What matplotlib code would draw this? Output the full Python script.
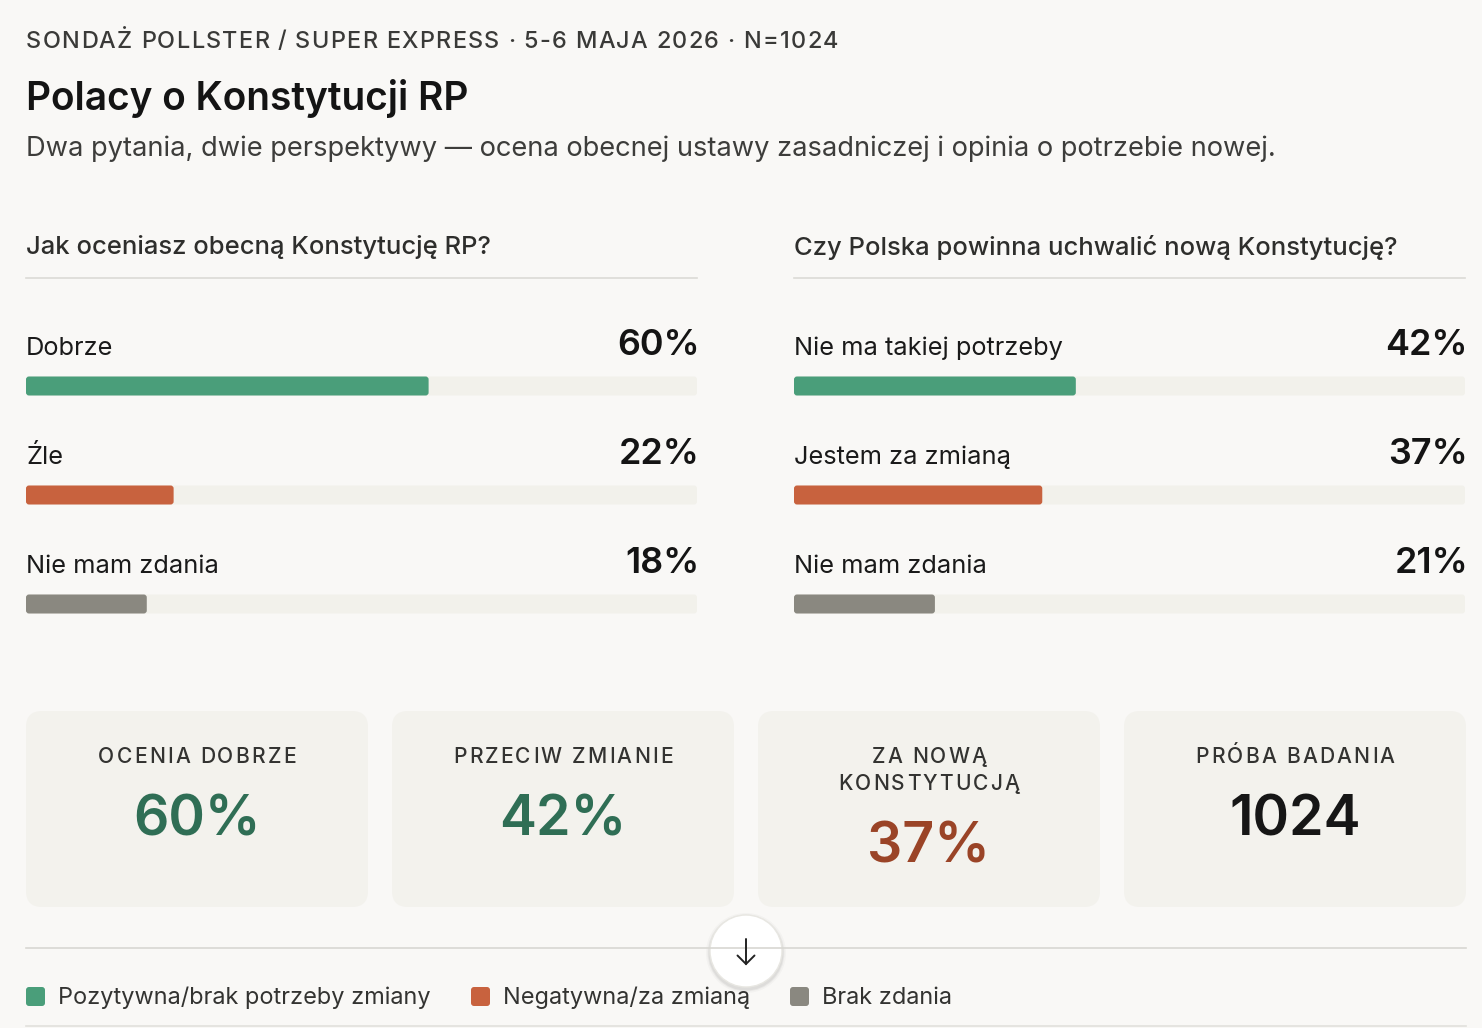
import matplotlib
matplotlib.use("Agg")
import matplotlib.pyplot as plt
from matplotlib.patches import FancyBboxPatch, Circle
from matplotlib.font_manager import FontProperties

plt.rcParams['font.family'] = ['Inter', 'DejaVu Sans']

# ---------------- data ----------------
kicker = "SONDAŻ POLLSTER / SUPER EXPRESS · 5-6 MAJA 2026 · N=1024"
title = "Polacy o Konstytucji RP"
subtitle = "Dwa pytania, dwie perspektywy — ocena obecnej ustawy zasadniczej i opinia o potrzebie nowej."

q1_title = "Jak oceniasz obecną Konstytucję RP?"
q1_labels = ["Dobrze", "Źle", "Nie mam zdania"]
q1_values = [60, 22, 18]

q2_title = "Czy Polska powinna uchwalić nową Konstytucję?"
q2_labels = ["Nie ma takiej potrzeby", "Jestem za zmianą", "Nie mam zdania"]
q2_values = [42, 37, 21]

card_labels = ["OCENIA DOBRZE", "PRZECIW ZMIANIE", "ZA NOWĄ\nKONSTYTUCJĄ", "PRÓBA BADANIA"]
card_values = ["60%", "42%", "37%", "1024"]

legend_labels = ["Pozytywna/brak potrzeby zmiany", "Negatywna/za zmianą", "Brak zdania"]

# ---------------- style ----------------
BG = "#f9f8f6"
TRACK = "#f2f1eb"
CARD = "#f3f2ed"
SERIES = ["#4a9e7a", "#c8623e", "#8a8880"]
CARD_COLORS = ["#2f6e55", "#2f6e55", "#9a4427", "#161616"]
W, H = 1482, 1028
PT = 72 / 100  # px -> pt

fig = plt.figure(figsize=(W / 100, H / 100), dpi=100, facecolor=BG)
bg = fig.add_axes([0, 0, 1, 1])
bg.set_xlim(0, W)
bg.set_ylim(H, 0)
bg.axis("off")
bg.set_facecolor(BG)
renderer = fig.canvas.get_renderer()


def px(v):
    return v * PT


def fig_rect(x0, y0, x1, y1):
    return [x0 / W, 1 - y1 / H, (x1 - x0) / W, (y1 - y0) / H]


def tw(s, prop):
    if not s.strip():
        return 0.0
    return renderer.get_text_width_height_descent(s, prop, ismath=False)[0]


def spaced_text(x, y_base, s, size_px, spacing, ha="left", weight="normal", color="#333"):
    prop = FontProperties(family=['Inter', 'DejaVu Sans'], size=px(size_px), weight=weight)
    total = tw(s, prop) + spacing * (len(s) - 1)
    x0 = x if ha == "left" else x - total / 2
    for i, c in enumerate(s):
        if c == " ":
            continue
        off = tw(s[:i + 1], prop) - tw(c, prop)
        bg.text(x0 + off + spacing * i, y_base, c, fontproperties=prop, color=color,
                va="baseline", ha="left")


# header
spaced_text(26, 47.5, kicker, 23.5, 1.3, weight="medium", color="#3a3a38")
bg.text(26, 98, title, fontsize=px(38.8), color="#141414", va="center", ha="left",
        fontweight="semibold")
bg.text(26, 149, subtitle, fontsize=px(27.3), color="#3d3d3b", va="center", ha="left")

# panels
ROW_PX = 109
Y0_PX = 386
BAR_PX = 19


def panel(x0, x1, qtitle, labels, values):
    bg.text(x0, 247, qtitle, fontsize=px(25.6), color="#2e2e2c", va="center", ha="left",
            fontweight="medium")
    bg.plot([x0, x1], [278, 278], color="#dcdbd6", lw=1.2)
    top, bot = 300, 630
    ax = fig.add_axes(fig_rect(x0, top, x1, bot))
    ax.set_xlim(0, 100)
    ax.set_ylim((bot - Y0_PX) / ROW_PX, (top - Y0_PX) / ROW_PX)
    ax.axis("off")
    ax.patch.set_alpha(0)
    n = len(values)
    ys = list(range(n))
    h = BAR_PX / ROW_PX
    aspect = (1 / ROW_PX) / (100 / (x1 - x0))
    tracks = ax.barh(ys, [100] * n, height=h, color=TRACK)
    bars = ax.barh(ys, values, height=h, color=SERIES[:n])
    for container in (tracks, bars):
        for rect in container:
            x, y = rect.get_x(), rect.get_y()
            w, hh = rect.get_width(), rect.get_height()
            fc = rect.get_facecolor()
            rect.remove()
            ax.add_patch(FancyBboxPatch((x, y), w, hh,
                                        boxstyle="round,pad=0,rounding_size=%.3f" % (3 * 100 / (x1 - x0)),
                                        mutation_aspect=aspect, fc=fc, ec="none"))
    for i, (lab, v) in enumerate(zip(labels, values)):
        ax.text(0, i - 38 / ROW_PX, lab, fontsize=px(25.4), color="#1a1a1a",
                va="center", ha="left")
        ax.text(100.45, i - 41 / ROW_PX, f"{v}%", fontsize=px(36), color="#141414",
                va="center", ha="right", fontweight="semibold")


panel(26, 697, q1_title, q1_labels, q1_values)
panel(794, 1465, q2_title, q2_labels, q2_values)

# cards
card_x = [26, 392, 758, 1124]
cw = 342
for x, lab, val, col in zip(card_x, card_labels, card_values, CARD_COLORS):
    bg.add_patch(FancyBboxPatch((x, 711), cw, 196, boxstyle="round,pad=0,rounding_size=16",
                                fc=CARD, ec="none"))
    cx = x + cw / 2
    lines = lab.split("\n")
    for j, ln in enumerate(lines):
        spaced_text(cx, 763 + 27.5 * j, ln, 21, 2.2, ha="center", weight="medium",
                    color="#333331")
    bg.text(cx, 835 + 27.5 * (len(lines) - 1), val, fontsize=px(55.5), color=col,
            va="baseline", ha="center", fontweight="semibold")

# bottom divider + button
bg.plot([26, 1466], [948, 948], color="#d8d7d2", lw=1.2)
bg.plot([26, 1466], [1026, 1026], color="#e2e1dc", lw=1.2)
for r, a in [(40, 0.025), (38.5, 0.04), (37.5, 0.05)]:
    bg.add_patch(Circle((746, 953), r, fc="#000000", alpha=a, ec="none"))
bg.add_patch(Circle((746, 951), 36, fc="#ffffff", ec="#e8e7e2", lw=1))
bg.plot([746, 746], [939, 964], color="#222222", lw=1.4, solid_capstyle="round")
bg.plot([737.5, 746, 754.5], [955.5, 964, 955.5], color="#222222", lw=1.4,
        solid_capstyle="round", solid_joinstyle="miter")

# legend
leg_x = [26, 471, 790]
for x, lab, col in zip(leg_x, legend_labels, SERIES):
    bg.add_patch(FancyBboxPatch((x, 987), 19, 19, boxstyle="round,pad=0,rounding_size=3",
                                fc=col, ec="none"))
    bg.text(x + 32, 998, lab, fontsize=px(23.5), color="#333331", va="center", ha="left")

fig.savefig("out.png", dpi=100, facecolor=BG)
